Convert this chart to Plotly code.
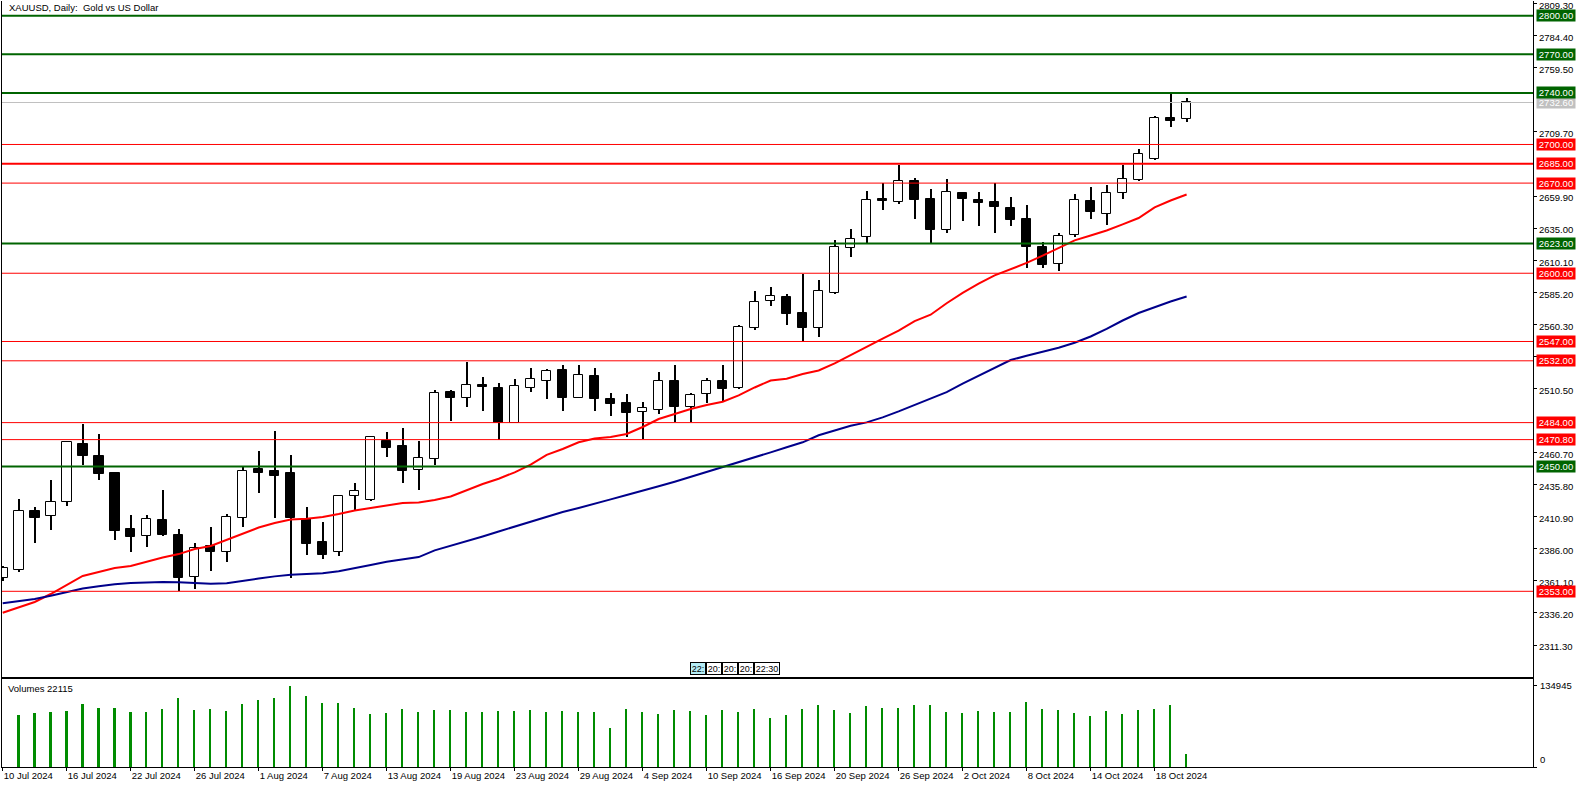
import plotly.graph_objects as go

# ---------------- data ----------------
tick_index = [0, 4, 8, 12, 16, 20, 24, 28, 32, 36, 40, 44, 48, 52, 56, 60, 64, 68, 72]
tick_dates = ["10 Jul 2024", "16 Jul 2024", "22 Jul 2024", "26 Jul 2024", "1 Aug 2024",
              "7 Aug 2024", "13 Aug 2024", "19 Aug 2024", "23 Aug 2024", "29 Aug 2024",
              "4 Sep 2024", "10 Sep 2024", "16 Sep 2024", "20 Sep 2024", "26 Sep 2024",
              "2 Oct 2024", "8 Oct 2024", "14 Oct 2024", "18 Oct 2024"]

opens = [2363.0, 2369.3, 2415.4, 2411.2, 2422.1, 2467.4, 2457.8, 2444.9, 2401.4, 2395.7,
         2408.1, 2396.7, 2363.9, 2388.4, 2383.3, 2409.7, 2448.0, 2446.4, 2444.9, 2408.9,
         2391.3, 2383.3, 2426.8, 2423.9, 2469.7, 2465.8, 2447.0, 2455.5, 2507.8, 2502.9,
         2513.2, 2510.9, 2483.9, 2511.1, 2516.6, 2524.6, 2503.4, 2520.2, 2502.3, 2499.0,
         2492.0, 2494.0, 2516.1, 2496.4, 2506.0, 2516.1, 2510.7, 2557.2, 2578.2, 2581.5,
         2568.9, 2557.2, 2584.4, 2619.4, 2627.9, 2657.7, 2655.6, 2671.4, 2657.4, 2633.3,
         2662.3, 2656.9, 2655.1, 2650.4, 2641.9, 2620.7, 2606.9, 2629.4, 2655.8, 2645.8,
         2662.1, 2672.2, 2688.5, 2720.3, 2719.5]
highs = [2372.5, 2424.7, 2418.5, 2439.4, 2470.0, 2482.9, 2475.2, 2445.6, 2412.3, 2412.3,
         2431.7, 2401.4, 2390.5, 2402.9, 2413.0, 2449.8, 2462.0, 2477.5, 2458.9, 2418.5,
         2406.8, 2427.8, 2437.1, 2473.2, 2477.0, 2479.6, 2470.0, 2509.3, 2509.1, 2531.3,
         2519.4, 2514.8, 2517.6, 2526.4, 2525.9, 2528.7, 2528.7, 2526.4, 2507.0, 2506.2,
         2500.0, 2523.3, 2528.7, 2507.0, 2518.4, 2528.7, 2559.8, 2586.2, 2589.3, 2583.9,
         2599.2, 2594.7, 2625.8, 2634.1, 2663.9, 2669.8, 2684.3, 2674.0, 2665.2, 2673.0,
         2663.4, 2663.1, 2669.8, 2659.0, 2652.8, 2624.0, 2631.0, 2661.5, 2667.0, 2668.5,
         2684.3, 2696.5, 2722.1, 2739.7, 2736.1]
lows = [2361.0, 2368.0, 2390.7, 2400.8, 2419.2, 2451.1, 2439.4, 2392.8, 2383.8, 2387.6,
        2396.2, 2353.2, 2355.0, 2369.0, 2375.8, 2402.9, 2429.6, 2409.7, 2363.6, 2381.4,
        2378.3, 2380.6, 2416.1, 2423.5, 2457.5, 2437.3, 2431.9, 2451.1, 2485.5, 2496.4,
        2493.3, 2470.5, 2483.4, 2507.8, 2502.3, 2493.3, 2503.0, 2493.3, 2489.1, 2473.1,
        2471.5, 2490.9, 2484.7, 2484.7, 2499.0, 2500.2, 2509.8, 2555.9, 2574.8, 2560.0,
        2546.4, 2550.7, 2584.0, 2612.8, 2623.5, 2649.1, 2653.8, 2642.4, 2623.5, 2631.5,
        2640.8, 2636.7, 2631.5, 2636.9, 2604.3, 2604.3, 2602.0, 2627.9, 2642.4, 2637.7,
        2657.8, 2671.5, 2688.0, 2713.8, 2717.8]
closes = [2370.9, 2415.4, 2410.2, 2422.1, 2468.7, 2458.3, 2444.3, 2400.1, 2395.4, 2408.9,
          2396.7, 2363.6, 2386.4, 2383.8, 2410.5, 2446.4, 2445.1, 2442.8, 2409.7, 2390.0,
          2381.4, 2426.8, 2430.7, 2472.6, 2464.5, 2446.7, 2456.5, 2507.0, 2503.4, 2513.0,
          2511.4, 2483.9, 2512.2, 2517.6, 2523.9, 2503.4, 2520.7, 2502.3, 2498.7, 2491.7,
          2495.1, 2516.1, 2496.4, 2505.2, 2516.1, 2510.3, 2558.0, 2577.4, 2582.1, 2568.6,
          2557.7, 2586.0, 2620.7, 2626.8, 2656.6, 2656.3, 2671.4, 2657.1, 2633.3, 2662.9,
          2657.9, 2654.8, 2651.7, 2641.6, 2620.4, 2606.6, 2628.7, 2656.6, 2647.8, 2662.1,
          2673.0, 2692.4, 2720.3, 2718.5, 2732.6]
# first bar's volume is hidden behind the pane border in the reference
volumes = [None, 86800, 90130, 91790, 93450, 105070, 98430, 98430, 91790, 91790,
           96770, 115030, 95110, 96770, 93450, 105070, 111710, 115030, 134945, 118350,
           106730, 106730, 98430, 88470, 90130, 96770, 91790, 95110, 95110, 91790,
           91790, 93450, 93450, 95110, 91790, 93450, 91790, 91790, 65230, 96770,
           91790, 88470, 95110, 93450, 86800, 95110, 91790, 96770, 81830, 86800,
           96770, 103410, 95110, 90130, 101750, 98430, 98430, 103410, 103410, 91790,
           90130, 93450, 91790, 91790, 108390, 96770, 95110, 90130, 85150, 93450,
           88470, 95110, 96770, 103410, 22115]
ma_red = [2336.4, 2340.4, 2344.7, 2350.9, 2357.9, 2364.9, 2368.0, 2371.1, 2372.6, 2376.0,
          2379.2, 2381.9, 2385.9, 2388.2, 2392.8, 2397.9, 2402.5, 2406.0, 2408.8, 2409.4,
          2410.7, 2413.0, 2415.7, 2417.7, 2419.6, 2421.6, 2421.9, 2423.9, 2426.6, 2431.7,
          2436.3, 2440.4, 2445.4, 2451.3, 2458.9, 2463.5, 2468.7, 2471.7, 2472.8, 2475.2,
          2480.6, 2486.8, 2490.8, 2494.6, 2497.7, 2500.2, 2505.1, 2511.3, 2516.7, 2518.1,
          2521.8, 2524.5, 2530.0, 2536.6, 2543.0, 2549.2, 2555.4, 2562.8, 2567.8, 2576.7,
          2584.7, 2591.9, 2598.3, 2603.3, 2608.0, 2613.7, 2619.6, 2625.5, 2629.3, 2633.2,
          2637.9, 2642.9, 2651.2, 2656.5, 2661.1]
ma_blue = [2343.7, 2345.2, 2347.0, 2349.5, 2352.2, 2355.2, 2356.9, 2358.5, 2359.5, 2360.1,
           2360.2, 2360.0, 2359.4, 2358.9, 2359.2, 2360.8, 2362.9, 2364.6, 2365.8, 2366.4,
           2367.0, 2368.5, 2370.7, 2373.5, 2376.0, 2377.6, 2379.6, 2384.8, 2388.3, 2392.3,
           2395.6, 2399.5, 2403.3, 2407.2, 2410.8, 2414.6, 2417.7, 2420.8, 2424.4, 2427.8,
           2430.9, 2434.6, 2438.1, 2441.9, 2445.5, 2449.0, 2453.2, 2456.9, 2460.9, 2464.9,
           2468.7, 2474.2, 2478.1, 2481.5, 2484.2, 2488.1, 2492.7, 2497.8, 2502.3, 2507.7,
           2514.2, 2520.5, 2526.9, 2532.6, 2535.9, 2539.0, 2542.2, 2546.0, 2550.9, 2556.8,
           2563.3, 2569.1, 2573.9, 2578.1, 2581.9]

# price scale ticks that are visible in the reference (others hide under level labels)
price_ticks = [2311.30, 2336.20, 2361.10, 2386.00, 2410.90, 2435.80, 2460.70,
               2510.50, 2535.40, 2560.30, 2585.20, 2610.10, 2635.00, 2659.90,
               2709.70, 2759.50, 2784.40, 2809.30]

green_levels = [2800.0, 2770.0, 2740.0, 2623.0, 2450.0]
red_levels = [2700.0, 2670.0, 2600.0, 2547.0, 2532.0, 2484.0, 2470.8, 2353.0]
red_thick_levels = [2685.0]
bid_price = 2732.6
volume_max_label = 134945
last_volume = 22115
title_text = "XAUUSD, Daily:\u00a0 Gold vs US Dollar"
time_boxes = ["22:", "20:", "20:", "20:", "22:30"]

# ---------------- figure ----------------
FONT = "Liberation Sans, Arial, sans-serif"
GREEN = "#006400"
RED = "#FF0000"
SILVER = "#C0C0C0"

n = len(opens)
idx = list(range(n))

fig = go.Figure()

# wicks (thin bars so bodies can cover them)
fig.add_trace(go.Bar(
    x=idx, y=[h - l for h, l in zip(highs, lows)], base=lows,
    width=0.07, marker=dict(color="black", line=dict(width=0)),
    xaxis="x", yaxis="y", hoverinfo="skip"))

# bodies
fig.add_trace(go.Bar(
    x=idx, y=[max(abs(c - o), 0.4) for o, c in zip(opens, closes)],
    base=[min(o, c) for o, c in zip(opens, closes)],
    width=0.6,
    marker=dict(color=["white" if c >= o else "black" for o, c in zip(opens, closes)],
                line=dict(color="black", width=1)),
    xaxis="x", yaxis="y", hoverinfo="skip"))

# moving averages
fig.add_trace(go.Scatter(x=idx, y=ma_red, mode="lines", line=dict(color=RED, width=2),
                         xaxis="x", yaxis="y", hoverinfo="skip"))
fig.add_trace(go.Scatter(x=idx, y=ma_blue, mode="lines", line=dict(color="#00008B", width=2),
                         xaxis="x", yaxis="y", hoverinfo="skip"))

# volumes
fig.add_trace(go.Bar(x=idx, y=volumes, width=0.1,
                     marker=dict(color="#008C00", line=dict(width=0)),
                     xaxis="x2", yaxis="y2", hoverinfo="skip"))

shapes = []
annotations = []


def add_level(price, color, width, box_color):
    shapes.append(dict(type="line", xref="x domain", x0=0, x1=1, yref="y", y0=price, y1=price,
                       line=dict(color=color, width=width), layer="above"))
    annotations.append(dict(xref="paper", x=1, xanchor="left", xshift=3,
                            yref="y", y=price, yanchor="middle",
                            text=f"{price:.2f}", showarrow=False,
                            font=dict(family=FONT, size=9.5, color="white"),
                            bgcolor=box_color, borderpad=0, width=38, height=11,
                            align="center"))


for p in red_levels:
    add_level(p, RED, 1, RED)
for p in red_thick_levels:
    add_level(p, RED, 2, RED)
add_level(bid_price, SILVER, 1, SILVER)
for p in green_levels:
    add_level(p, GREEN, 2, GREEN)

# title and indicator label
annotations.append(dict(xref="paper", x=0.003, xanchor="left", yref="paper", y=0.991,
                        yanchor="middle", text=title_text, showarrow=False,
                        font=dict(family=FONT, size=9.5, color="black")))
annotations.append(dict(xref="paper", x=0.0025, xanchor="left", yref="paper", y=0.103,
                        yanchor="middle", text=f"Volumes {last_volume}", showarrow=False,
                        font=dict(family=FONT, size=9.5, color="black")))

# volume scale labels
annotations.append(dict(xref="paper", x=1, xanchor="left", xshift=5, yref="y2",
                        y=volume_max_label, yanchor="middle", text=str(volume_max_label),
                        showarrow=False, font=dict(family=FONT, size=9.5, color="black")))
annotations.append(dict(xref="paper", x=1, xanchor="left", xshift=5, yref="y2",
                        y=0, yanchor="bottom", text="0",
                        showarrow=False, font=dict(family=FONT, size=9.5, color="black")))

# time boxes strip near the bottom of the price pane
box_left_px = [690, 706, 722, 738, 754]
box_w_px = [16, 16, 16, 16, 26]
for k, t in enumerate(time_boxes):
    cx = (box_left_px[k] + box_w_px[k] / 2 - 2) / 1531
    annotations.append(dict(xref="paper", x=cx, xanchor="center", yref="paper",
                            y=(767 - 668.5) / 766, yanchor="middle", text=t,
                            showarrow=False, width=box_w_px[k] - 2, height=11,
                            borderpad=0, bordercolor="black", borderwidth=1,
                            bgcolor="#B4ECF4" if k == 0 else "white",
                            font=dict(family=FONT, size=9, color="black")))

x_range = [-0.044, 95.65]

fig.update_layout(
    width=1586, height=788,
    margin=dict(l=2, r=53, t=1, b=21, pad=0, autoexpand=False),
    paper_bgcolor="white", plot_bgcolor="white",
    showlegend=False, barmode="overlay", bargap=0,
    font=dict(family=FONT, size=9.5, color="black"),
    shapes=shapes, annotations=annotations,
    xaxis=dict(domain=[0, 1], anchor="y", range=x_range, showgrid=False, zeroline=False,
               automargin=False,
               showticklabels=False, ticks="", showline=True, linecolor="black", linewidth=1),
    yaxis=dict(domain=[0.11749, 1], anchor="x", side="right", range=[2286.45, 2811.41],
               automargin=False,
               tickvals=price_ticks, ticktext=[f"{v:.2f}" for v in price_ticks],
               ticks="outside", ticklen=3, tickcolor="black", tickwidth=1,
               ticklabeloverflow="allow", ticklabelshift=2,
               showline=True, mirror=True, linecolor="black", linewidth=1,
               showgrid=False, zeroline=False,
               tickfont=dict(family=FONT, size=9.5, color="black")),
    xaxis2=dict(domain=[0, 1], anchor="y2", range=x_range, showgrid=False, zeroline=False,
                automargin=False,
                tickvals=tick_index, ticktext=tick_dates, ticks="outside", ticklen=3,
                tickcolor="black", showline=True, mirror=True, linecolor="black",
                linewidth=1, ticklabelposition="outside right",
                tickfont=dict(family=FONT, size=9.5, color="black")),
    yaxis2=dict(domain=[0, 0.11488], anchor="x2", side="right", range=[0, 146565],
                automargin=False,
                tickvals=[0, volume_max_label], showticklabels=False, ticks="outside",
                ticklen=3, tickcolor="black", showline=True, mirror=True,
                linecolor="black", linewidth=1, showgrid=False, zeroline=False),
)

fig.write_html("out.html")
